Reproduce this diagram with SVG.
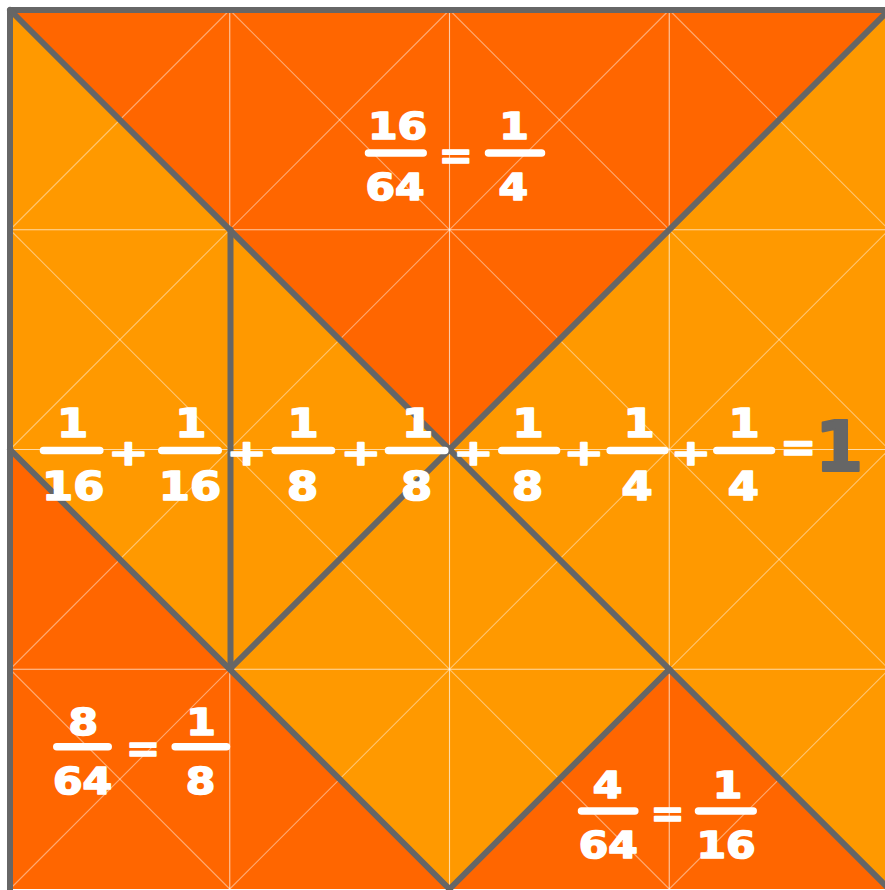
<svg xmlns="http://www.w3.org/2000/svg" width="885" height="890" viewBox="0 0 885 890">
<style>
.dark{fill:#FF6600}
.light{fill:#FF9900}
.grid line{stroke:#FFFFFF;stroke-opacity:0.65;stroke-width:1.1}
.diag line{stroke:#FFFFFF;stroke-opacity:0.45;stroke-width:1.1}
.edge{stroke:#666666;stroke-width:6;fill:none;stroke-linecap:round;stroke-linejoin:round}
.n{font-family:"DejaVu Sans",Verdana,sans-serif;font-weight:bold;fill:#FFFFFF;stroke:#FFFFFF;stroke-width:1.6;stroke-linejoin:round;text-anchor:middle;font-size:37px}
.m{font-size:39px}
.bar{stroke:#FFFFFF;stroke-width:7.5;stroke-linecap:round}
.big{font-family:"DejaVu Sans",Verdana,sans-serif;font-weight:bold;fill:#666666;stroke:#666666;stroke-width:2;stroke-linejoin:round;text-anchor:middle;font-size:70px}
</style>
<rect x="0" y="0" width="885" height="890" fill="#FFFFFF"/>
<g id="pieces">
<g id="piece-top"><polygon class="dark" points="10,10 889,10 449.5,449.5"/></g>
<g id="piece-right"><polygon class="light" points="889,10 889,889 449.5,449.5"/></g>
<g id="piece-parallelogram"><polygon class="light" points="10,10 229.75,229.75 229.75,669.25 10,449.5"/></g>
<g id="piece-small-triangle"><polygon class="light" points="229.75,229.75 449.5,449.5 229.75,669.25"/></g>
<g id="piece-square"><polygon class="light" points="229.75,669.25 449.5,449.5 669.25,669.25 449.5,889"/></g>
<g id="piece-bottom-left"><polygon class="dark" points="10,449.5 10,889 449.5,889"/></g>
<g id="piece-bottom-right"><polygon class="dark" points="669.25,669.25 889,889 449.5,889"/></g>
</g>
<g class="grid" id="grid">
<line x1="229.75" y1="10" x2="229.75" y2="889"/>
<line x1="449.5" y1="10" x2="449.5" y2="889"/>
<line x1="669.25" y1="10" x2="669.25" y2="889"/>
<line x1="10" y1="229.75" x2="889" y2="229.75"/>
<line x1="10" y1="449.5" x2="889" y2="449.5"/>
<line x1="10" y1="669.25" x2="889" y2="669.25"/>
</g>
<g class="diag" id="diagonals">
<line x1="10" y1="10" x2="889" y2="889"/>
<line x1="229.75" y1="10" x2="889" y2="669.25"/>
<line x1="449.5" y1="10" x2="889" y2="449.5"/>
<line x1="669.25" y1="10" x2="889" y2="229.75"/>
<line x1="10" y1="229.75" x2="669.25" y2="889"/>
<line x1="10" y1="449.5" x2="449.5" y2="889"/>
<line x1="10" y1="669.25" x2="229.75" y2="889"/>
<line x1="229.75" y1="10" x2="10" y2="229.75"/>
<line x1="449.5" y1="10" x2="10" y2="449.5"/>
<line x1="669.25" y1="10" x2="10" y2="669.25"/>
<line x1="889" y1="10" x2="10" y2="889"/>
<line x1="889" y1="229.75" x2="229.75" y2="889"/>
<line x1="889" y1="449.5" x2="449.5" y2="889"/>
<line x1="889" y1="669.25" x2="669.25" y2="889"/>
</g>
<g id="connectors">
<path class="edge" d="M10,900 V10 H900"/>
<line class="edge" x1="10" y1="10" x2="889" y2="889"/>
<line class="edge" x1="889" y1="10" x2="229.75" y2="669.25"/>
<line class="edge" x1="10" y1="449.5" x2="449.5" y2="889"/>
<line class="edge" x1="669.25" y1="669.25" x2="449.5" y2="889"/>
<line class="edge" x1="230.5" y1="229.75" x2="230.5" y2="669.25"/>
</g>
<g id="label-top">
<text class="n" transform="translate(397.5,138.5) scale(1.15,1)">16</text>
<line class="bar" x1="368.5" y1="153" x2="423.2" y2="153"/>
<text class="n" transform="translate(395,200) scale(1.15,1)">64</text>
<text class="n" transform="translate(455.8,168) scale(1.1,1)">=</text>
<text class="n" transform="translate(514,138.5) scale(1.15,1)">1</text>
<line class="bar" x1="488.5" y1="153" x2="541.5" y2="153"/>
<text class="n" transform="translate(513.3,200) scale(1.15,1)">4</text>
</g>
<g id="label-bottom-left">
<text class="n" transform="translate(83.3,735) scale(1.15,1)">8</text>
<line class="bar" x1="56.8" y1="746.7" x2="108.2" y2="746.7"/>
<text class="n" transform="translate(82.5,794) scale(1.15,1)">64</text>
<text class="n" transform="translate(143,761) scale(1.1,1)">=</text>
<text class="n" transform="translate(201,735) scale(1.15,1)">1</text>
<line class="bar" x1="175.2" y1="746.7" x2="226.5" y2="746.7"/>
<text class="n" transform="translate(200.5,794) scale(1.15,1)">8</text>
</g>
<g id="label-bottom-right">
<text class="n" transform="translate(607.5,798.3) scale(1.15,1)">4</text>
<line class="bar" x1="581.5" y1="811" x2="634.8" y2="811"/>
<text class="n" transform="translate(608.3,858.3) scale(1.15,1)">64</text>
<text class="n" transform="translate(667.5,826.3) scale(1.1,1)">=</text>
<text class="n" transform="translate(727.5,798.3) scale(1.15,1)">1</text>
<line class="bar" x1="698.5" y1="811" x2="753.2" y2="811"/>
<text class="n" transform="translate(726,858.3) scale(1.15,1)">16</text>
</g>
<g id="label-sum">
<text class="n m" transform="translate(72.5,436.7) scale(1.15,1)">1</text>
<line class="bar" x1="43.5" y1="450.5" x2="99.8" y2="450.5"/>
<text class="n m" transform="translate(73.3,500) scale(1.15,1)">16</text>
<text class="n m" transform="translate(128.3,465) scale(1.25,0.92)">+</text>
<text class="n m" transform="translate(190.8,436.7) scale(1.15,1)">1</text>
<line class="bar" x1="161.8" y1="450.5" x2="218.2" y2="450.5"/>
<text class="n m" transform="translate(190,500) scale(1.15,1)">16</text>
<text class="n m" transform="translate(246.7,465) scale(1.25,0.92)">+</text>
<text class="n m" transform="translate(303,436.7) scale(1.15,1)">1</text>
<line class="bar" x1="275.2" y1="450.5" x2="331.5" y2="450.5"/>
<text class="n m" transform="translate(302.5,500) scale(1.15,1)">8</text>
<text class="n m" transform="translate(361,465) scale(1.25,0.92)">+</text>
<text class="n m" transform="translate(417.5,436.7) scale(1.15,1)">1</text>
<line class="bar" x1="388.5" y1="450.5" x2="444.8" y2="450.5"/>
<text class="n m" transform="translate(416.7,500) scale(1.15,1)">8</text>
<text class="n m" transform="translate(473.3,465) scale(1.25,0.92)">+</text>
<text class="n m" transform="translate(528,436.7) scale(1.15,1)">1</text>
<line class="bar" x1="501.8" y1="450.5" x2="556.5" y2="450.5"/>
<text class="n m" transform="translate(527.5,500) scale(1.15,1)">8</text>
<text class="n m" transform="translate(584,465) scale(1.25,0.92)">+</text>
<text class="n m" transform="translate(639,436.7) scale(1.15,1)">1</text>
<line class="bar" x1="610.2" y1="450.5" x2="664.8" y2="450.5"/>
<text class="n m" transform="translate(637,500) scale(1.15,1)">4</text>
<text class="n m" transform="translate(691,465) scale(1.25,0.92)">+</text>
<text class="n m" transform="translate(744,436.7) scale(1.15,1)">1</text>
<line class="bar" x1="716.8" y1="450.5" x2="771.5" y2="450.5"/>
<text class="n m" transform="translate(743.3,500) scale(1.15,1)">4</text>
<text class="n m" transform="translate(798.3,461) scale(1.1,1)">=</text>
<text class="big" x="839" y="471">1</text>
</g>
</svg>
